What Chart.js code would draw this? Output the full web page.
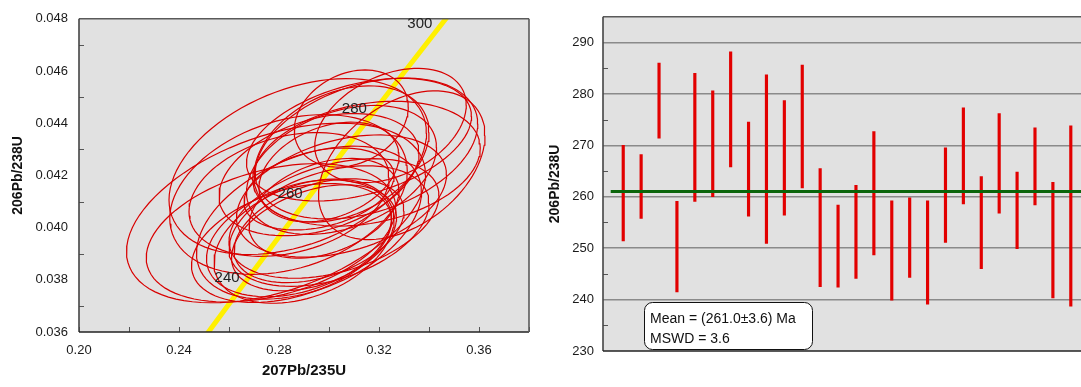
<!DOCTYPE html>
<html>
<head>
<meta charset="utf-8">
<script src="https://cdn.jsdelivr.net/npm/chart.js@4.4.1/dist/chart.umd.min.js"></script>
<style>
  html, body { margin: 0; padding: 0; background: #fff; overflow: hidden; }
  #wrap { position: relative; width: 1081px; height: 387px; }
  #concordiaChart { position: absolute; left: 0; top: 0; }
  #meanChart { position: absolute; left: 540px; top: 0; }
</style>
</head>
<body>
<div id="wrap">
  <canvas id="concordiaChart" width="540" height="387"></canvas>
  <canvas id="meanChart" width="541" height="387"></canvas>
</div>
<script>
// ---- Concordia data (one entry per spot) ----
// ellipse centre, half extent on each axis and error correlation
const ratio207_235 = [0.284, 0.296, 0.3089, 0.288, 0.315, 0.305, 0.3246, 0.296, 0.2875, 0.3291, 0.312, 0.292, 0.294,
                      0.300, 0.2838, 0.290, 0.296, 0.285, 0.305, 0.315, 0.302, 0.305, 0.298, 0.300, 0.2768, 0.2788];
const err207_235   = [0.040, 0.030, 0.0228, 0.037, 0.0445, 0.035, 0.0303, 0.040, 0.0515, 0.0333, 0.045, 0.045, 0.033,
                      0.040, 0.0475, 0.036, 0.034, 0.040, 0.042, 0.0455, 0.042, 0.038, 0.030, 0.028, 0.0499, 0.0598];
const ratio206_238 = [0.04127, 0.04148, 0.04418, 0.03959, 0.04303, 0.04282, 0.04391, 0.04203, 0.04234, 0.04239, 0.04337,
                      0.04019, 0.03961, 0.04006, 0.04127, 0.03948, 0.03988, 0.03941, 0.04121, 0.04245, 0.04035, 0.04221,
                      0.04074, 0.04213, 0.03980, 0.04056];
const err206_238   = [0.00237, 0.00157, 0.00186, 0.00224, 0.00270, 0.00261, 0.00219, 0.00234, 0.00337, 0.00285, 0.00235,
                      0.00293, 0.00203, 0.00231, 0.00306, 0.00238, 0.00199, 0.00228, 0.00234, 0.00239, 0.00229, 0.00247,
                      0.00191, 0.00191, 0.00265, 0.00344];
const errCorr      = [0.28, 0.32, 0.24, 0.35, 0.35, 0.32, 0.36, 0.35, 0.38, 0.40, 0.38, 0.40, 0.38,
                      0.38, 0.30, 0.35, 0.38, 0.38, 0.35, 0.25, 0.38, 0.35, 0.35, 0.32, 0.36, 0.43];

// concordia curve points (Ma)
const concAges = [220, 240, 260, 280, 300, 320];
const concX = [0.24192, 0.26664, 0.29183, 0.31753, 0.34375, 0.37047];
const concY = [0.034717, 0.037932, 0.041157, 0.044392, 0.047637, 0.050893];
const concLabelAges = [240, 260, 280, 300];

// ---- Weighted mean data: 206Pb/238U ages (Ma) ----
const spotNo = [1, 2, 3, 4, 5, 6, 7, 8, 9, 10, 11, 12, 13, 14, 15, 16, 17, 18, 19, 20, 21, 22, 23, 24, 25, 26];
const ageLow  = [251.4, 255.8, 271.4, 241.5, 259.1, 260.0, 265.8, 256.2, 250.9, 256.4, 261.7, 242.5, 242.4,
                 244.1, 248.7, 239.9, 244.3, 239.1, 251.1, 258.6, 246.0, 256.8, 249.9, 258.4, 240.3, 238.7];
const ageHigh = [270.0, 268.2, 286.0, 259.1, 284.0, 280.6, 288.2, 274.5, 283.7, 278.7, 285.6, 265.5, 258.4,
                 262.2, 272.7, 259.2, 259.8, 259.2, 269.5, 277.3, 263.9, 276.2, 264.8, 273.4, 262.8, 273.8];
const meanAge = 261.0;
const meanErr = 3.6;
const mswd = 3.6;

const fontFamily = "'Liberation Sans', Arial, sans-serif";
Chart.defaults.font.family = fontFamily;
Chart.defaults.color = '#1a1a1a';

// outline of one error ellipse from its centre, half extents and correlation
function ellipsePoints(i) {
    const pts = [];
    const r = errCorr[i];
    const k = Math.sqrt(1 - r * r);
    for (let a = 0; a <= 90; a++) {
        const t = a / 90 * 2 * Math.PI;
        pts.push({
            x: ratio207_235[i] + err207_235[i] * Math.cos(t),
            y: ratio206_238[i] + err206_238[i] * (r * Math.cos(t) + k * Math.sin(t))
        });
    }
    return pts;
}

// grey plot background, frame and inward minor tick marks
const plotFrame = {
    id: 'plotFrame',
    beforeDraw(chart, args, opts) {
        const { ctx, chartArea: a } = chart;
        ctx.save();
        ctx.fillStyle = opts.background;
        ctx.fillRect(a.left, a.top, a.right - a.left, a.bottom - a.top);
        ctx.restore();
    },
    afterDatasetsDraw(chart, args, opts) {
        const { ctx, chartArea: a } = chart;
        ctx.save();
        // tick marks pointing into the plot
        ctx.strokeStyle = '#555';
        ctx.lineWidth = 1;
        (opts.marks || []).forEach(m => {
            const scale = chart.scales[m.axis];
            scale.ticks.forEach(t => {
                if (!m.show(t.value)) return;
                const p = Math.round(scale.getPixelForValue(t.value)) + 0.5;
                ctx.beginPath();
                if (m.axis === 'x') {
                    ctx.moveTo(p, a.bottom);
                    ctx.lineTo(p, a.bottom - 5);
                } else {
                    ctx.moveTo(a.left, p);
                    ctx.lineTo(a.left + 5, p);
                }
                ctx.stroke();
            });
        });
        // frame
        ctx.lineWidth = 1.6;
        const side = (color, x1, y1, x2, y2) => {
            ctx.strokeStyle = color;
            ctx.beginPath();
            ctx.moveTo(x1, y1);
            ctx.lineTo(x2, y2);
            ctx.stroke();
        };
        side('#5a5a5a', a.left, a.top, a.right, a.top);
        side('#444', a.left, a.top, a.left, a.bottom);
        side('#222', a.left, a.bottom, a.right, a.bottom);
        if (opts.rightSide) side('#5a5a5a', a.right, a.top, a.right, a.bottom);
        ctx.restore();
    }
};

// age labels along the concordia
const concordiaLabels = {
    id: 'concordiaLabels',
    afterDatasetsDraw(chart) {
        const { ctx, scales: { x, y } } = chart;
        ctx.save();
        ctx.font = '15px ' + fontFamily;
        ctx.fillStyle = '#222';
        ctx.textAlign = 'right';
        ctx.textBaseline = 'middle';
        concLabelAges.forEach(age => {
            const i = concAges.indexOf(age);
            ctx.fillText(String(age), x.getPixelForValue(concX[i]) - 6, y.getPixelForValue(concY[i]) - 4);
        });
        ctx.restore();
    }
};

// result box on the weighted mean plot
const meanBox = {
    id: 'meanBox',
    afterDraw(chart) {
        const { ctx, chartArea: a } = chart;
        const bx = a.left + 41, by = a.bottom - 49, bw = 168, bh = 47;
        ctx.save();
        ctx.beginPath();
        ctx.roundRect(bx + 0.5, by + 0.5, bw, bh, 8);
        ctx.fillStyle = '#fff';
        ctx.fill();
        ctx.strokeStyle = '#111';
        ctx.lineWidth = 1;
        ctx.stroke();
        ctx.font = '14px ' + fontFamily;
        ctx.fillStyle = '#111';
        ctx.textBaseline = 'alphabetic';
        ctx.fillText('Mean = (' + meanAge.toFixed(1) + '±' + meanErr.toFixed(1) + ') Ma', bx + 6, by + 21);
        ctx.fillText('MSWD = ' + mswd.toFixed(1), bx + 6, by + 41);
        ctx.restore();
    }
};

// Concordia chart
const ellipseSets = ratio207_235.map((v, i) => ({
    data: ellipsePoints(i),
    showLine: true,
    borderColor: '#d80000',
    borderWidth: 1.2,
    pointRadius: 0,
    tension: 0
}));

new Chart(document.getElementById('concordiaChart'), {
    type: 'scatter',
    data: {
        datasets: [
            ...ellipseSets,
            {
                data: concX.map((v, i) => ({ x: v, y: concY[i] })),
                showLine: true,
                borderColor: '#fff000',
                borderWidth: 5,
                pointRadius: 0,
                tension: 0.3
            }
        ]
    },
    options: {
        responsive: false,
        animation: false,
        events: [],
        layout: { padding: { top: 12, right: 7, left: 0, bottom: 0 } },
        plugins: {
            legend: { display: false },
            tooltip: { enabled: false },
            plotFrame: {
                background: '#e1e1e1',
                rightSide: true,
                marks: [
                    { axis: 'x', show: v => true },
                    { axis: 'y', show: v => Math.round(v * 1000) % 2 === 1 }
                ]
            }
        },
        scales: {
            x: {
                type: 'linear',
                min: 0.2,
                max: 0.38,
                afterFit: s => { s.height = 55; },
                grid: { display: false, drawTicks: false },
                border: { display: false },
                ticks: {
                    stepSize: 0.02,
                    autoSkip: false,
                    maxRotation: 0,
                    padding: 11,
                    font: { size: 13 },
                    callback: v => Math.round(v * 100) % 4 === 0 ? v.toFixed(2) : ''
                },
                title: {
                    display: true,
                    text: '207Pb/235U',
                    color: '#111',
                    font: { size: 15, weight: 'bold' },
                    padding: { top: 0, bottom: 7 }
                }
            },
            y: {
                type: 'linear',
                min: 0.036,
                max: 0.048,
                afterFit: s => { s.width = 79; },
                grid: { display: false, drawTicks: false },
                border: { display: false },
                ticks: {
                    stepSize: 0.001,
                    autoSkip: false,
                    padding: 11,
                    font: { size: 13 },
                    callback: v => Math.round(v * 1000) % 2 === 0 ? v.toFixed(3) : ''
                },
                title: {
                    display: true,
                    text: '206Pb/238U',
                    color: '#111',
                    font: { size: 14, weight: 'bold' },
                    padding: { top: 10, bottom: 0 }
                }
            }
        }
    },
    plugins: [plotFrame, concordiaLabels]
});

// Weighted mean chart
new Chart(document.getElementById('meanChart'), {
    type: 'bar',
    data: {
        datasets: [
            {
                type: 'line',
                data: [{ x: 0.3, y: meanAge }, { x: 27, y: meanAge }],
                borderColor: '#0b650b',
                borderWidth: 3,
                pointRadius: 0
            },
            {
                data: spotNo.map((n, i) => ({ x: n, y: [ageLow[i], ageHigh[i]] })),
                backgroundColor: '#e20000',
                borderWidth: 0,
                barThickness: 2.5
            }
        ]
    },
    options: {
        responsive: false,
        animation: false,
        events: [],
        layout: { padding: { top: 15, right: 0, left: 0, bottom: 0 } },
        plugins: {
            legend: { display: false },
            tooltip: { enabled: false },
            plotFrame: {
                background: '#e1e1e1',
                rightSide: false,
                marks: [
                    { axis: 'y', show: v => v % 10 === 5 && v < 295 }
                ]
            }
        },
        scales: {
            x: {
                type: 'linear',
                offset: false,
                min: -0.13,
                max: 26.57,
                afterFit: s => { s.height = 36; },
                grid: { display: false, drawTicks: false },
                border: { display: false },
                ticks: { display: false }
            },
            y: {
                type: 'linear',
                min: 230,
                max: 295,
                afterFit: s => { s.width = 63; },
                border: { display: false },
                grid: {
                    drawTicks: false,
                    lineWidth: 1.5,
                    color: c => (c.tick.value % 10 === 0 && c.tick.value > 230) ? '#8a8a8a' : 'rgba(0,0,0,0)'
                },
                ticks: {
                    stepSize: 5,
                    autoSkip: false,
                    padding: 9,
                    font: { size: 13 },
                    callback: v => v % 10 === 0 ? String(v) : ''
                },
                title: {
                    display: true,
                    text: '206Pb/238U',
                    color: '#111',
                    font: { size: 14, weight: 'bold' },
                    padding: { top: 7, bottom: 0 }
                }
            }
        }
    },
    plugins: [plotFrame, meanBox]
});
</script>
</body>
</html>
